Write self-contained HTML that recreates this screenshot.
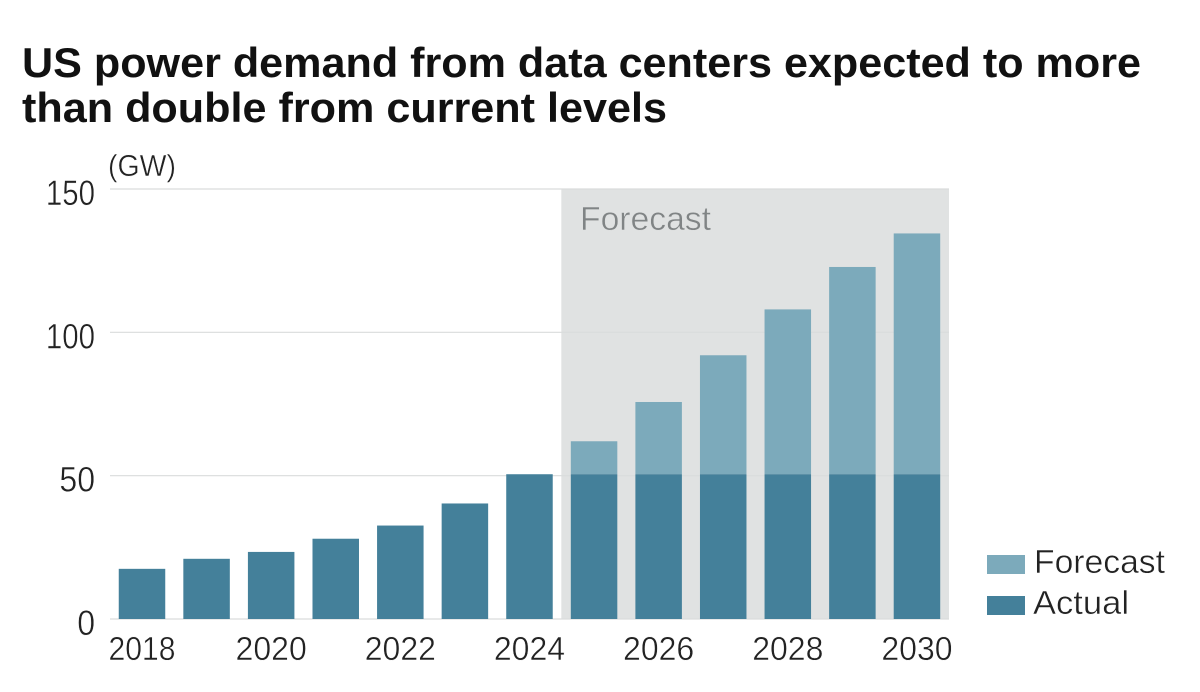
<!DOCTYPE html>
<html lang="en">
<head>
<meta charset="utf-8">
<title>US power demand from data centers</title>
<style>
html,body{margin:0;padding:0;background:#fff;width:1200px;height:692px;overflow:hidden}
svg{display:block}
text{font-family:"Liberation Sans",sans-serif}
.title{font-size:42px;font-weight:700;fill:#111}
.tick{fill:#222;stroke:#fff;stroke-width:.45px}
.ytick{font-size:35px}
.xtick{font-size:33px}
.legend{font-size:33px;fill:#222;stroke:#fff;stroke-width:.45px}
</style>
</head>
<body>
<svg id="chart" width="1200" height="692" viewBox="0 0 1200 692" xmlns="http://www.w3.org/2000/svg">
<text class="title" x="22" y="77" textLength="1119" lengthAdjust="spacingAndGlyphs">US power demand from data centers expected to more</text>
<text class="title" x="22" y="122" textLength="645" lengthAdjust="spacingAndGlyphs">than double from current levels</text>
<text class="tick" x="108" y="176" textLength="68" lengthAdjust="spacingAndGlyphs" style="font-size:31px">(GW)</text>
<g id="plot"></g>
<g>
<rect x="987" y="555" width="38" height="19" fill="#7caabb"/>
<text class="legend" x="1034" y="573" textLength="131" lengthAdjust="spacingAndGlyphs">Forecast</text>
<rect x="987" y="596" width="38" height="19" fill="#44809a"/>
<text class="legend" x="1033" y="614" textLength="96" lengthAdjust="spacingAndGlyphs">Actual</text>
</g>
</svg>
<script>
const years = [2018,2019,2020,2021,2022,2023,2024,2025,2026,2027,2028,2029,2030];
const actualValues = [17.5,21,23.4,28,32.6,40.3,50.5,50.5,50.5,50.5,50.5,50.5,50.5];
const forecastTotals = [null,null,null,null,null,null,null,62,75.7,92,108,122.8,134.5];
const yTicks = [0,50,100,150];
const xTickLabels = ["2018","2020","2022","2024","2026","2028","2030"];
const forecastStartYear = 2025;

const NS = "http://www.w3.org/2000/svg";
const plot = document.getElementById("plot");
const yScale = v => 619 - v * (430 / 150);
const xScale = yr => 142 + (yr - 2018) * 64.58;
const barWidth = 46.5;
const digitsWidth = s => [...String(s)].reduce((w, c) => w + (c === "1" ? 13.5 : 17.8), 0);

function make(tag, attrs, parent) {
  const el = document.createElementNS(NS, tag);
  for (const k in attrs) el.setAttribute(k, attrs[k]);
  parent.appendChild(el);
  return el;
}

const shadeLeft = xScale(forecastStartYear) - barWidth / 2 - 9.5;
const shade = make("rect", {x: shadeLeft, y: yScale(150), width: 949 - shadeLeft, height: yScale(0) - yScale(150), fill: "#e0e2e2"}, plot);



yTicks.forEach(t => {
  const line = make("line", {x1: 110, x2: 949, y1: yScale(t), y2: yScale(t), stroke: "#d9dcdc", "stroke-width": 1.2}, plot);
  
  
  const w = digitsWidth(t);
  const label = make("text", {x: 95 - w, y: yScale(t) + 16, textLength: w, lengthAdjust: "spacingAndGlyphs", class: "tick ytick"}, plot);
  
  
  label.textContent = t;
});

const regionLabel = make("text", {x: 580, y: 230, textLength: 131, lengthAdjust: "spacingAndGlyphs", style: "font-size:33px;fill:#808485;stroke:#e0e2e2;stroke-width:.45px"}, plot);


regionLabel.textContent = "Forecast";

years.forEach((yr, i) => {
  const left = xScale(yr) - barWidth / 2;
  if (forecastTotals[i] !== null) {
    const f = make("rect", {x: left, y: yScale(forecastTotals[i]), width: barWidth, height: yScale(actualValues[i]) - yScale(forecastTotals[i]), fill: "#7caabb"}, plot);
    
    
  }
  const a = make("rect", {x: left, y: yScale(actualValues[i]), width: barWidth, height: yScale(0) - yScale(actualValues[i]), fill: "#44809a"}, plot);
  
  
});

xTickLabels.forEach(lbl => {
  const w = digitsWidth(lbl);
  const t = make("text", {x: xScale(+lbl) - w / 2, y: 660, textLength: w, lengthAdjust: "spacingAndGlyphs", class: "tick xtick"}, plot);
  
  
  t.textContent = lbl;
});
</script>
</body>
</html>
